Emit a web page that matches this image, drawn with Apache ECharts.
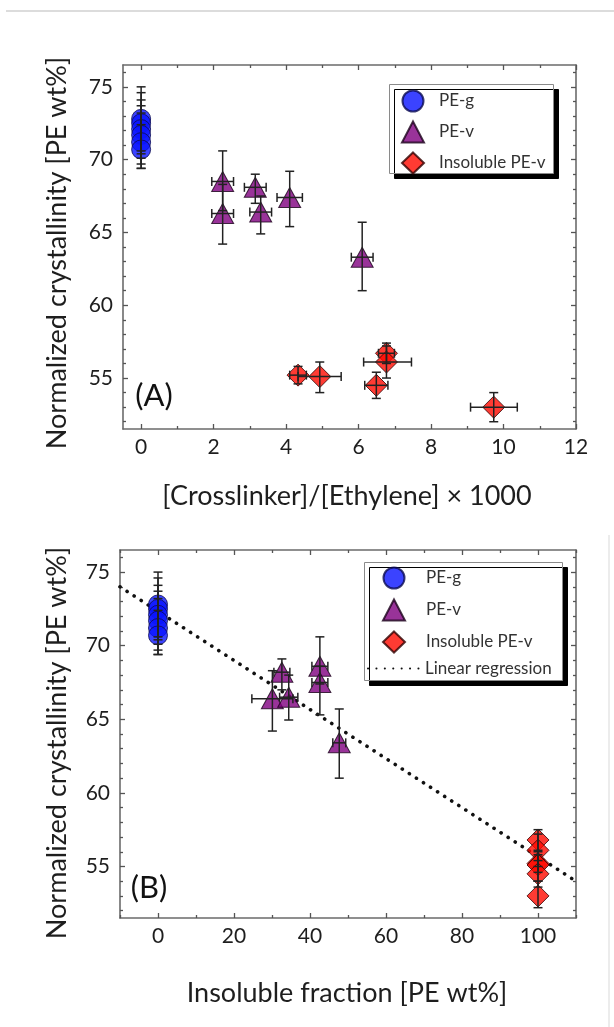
<!DOCTYPE html>
<html>
<head>
<meta charset="utf-8">
<script src="https://cdn.jsdelivr.net/npm/echarts@6.0.0/dist/echarts.min.js"></script>
<style>
html,body{margin:0;padding:0;background:#fff;}
#c{width:614px;height:1027px;}
</style>
</head>
<body>
<div id="c"></div>
<script>
// ---------- DATA ----------
// Panel A: x = [Crosslinker]/[Ethylene] x 1000
const peGA_x   = [0, 0, 0, 0, 0, 0];
const peGA_y   = [72.8, 72.5, 72.1, 71.7, 71.2, 70.7];
const peGA_ylo = [70.6, 70.4, 70.1, 69.7, 69.4, 69.4];
const peGA_yhi = [75.0, 74.6, 74.1, 73.7, 73.2, 72.4];

const peVA_x   = [2.25, 2.25, 3.15, 3.3, 4.1, 6.1];
const peVA_y   = [68.5, 66.3, 68.1, 66.4, 67.4, 63.3];
const peVA_xlo = [1.95, 1.95, 2.85, 3.0, 3.75, 5.8];
const peVA_xhi = [2.55, 2.55, 3.45, 3.6, 4.45, 6.4];
const peVA_ylo = [66.5, 64.2, 67.0, 64.9, 65.4, 61.0];
const peVA_yhi = [70.6, 68.3, 69.0, 67.5, 69.2, 65.7];

const insA_x   = [4.33, 4.93, 6.49, 6.77, 6.77, 9.73];
const insA_y   = [55.2, 55.1, 54.5, 56.7, 56.1, 53.0];
const insA_xlo = [4.10, 4.33, 6.17, 6.55, 6.14, 9.09];
const insA_xhi = [4.56, 5.52, 6.81, 6.99, 7.46, 10.38];
const insA_ylo = [54.6, 54.0, 53.6, 56.0, 55.0, 52.0];
const insA_yhi = [55.8, 56.1, 55.4, 57.4, 57.2, 54.0];

// Panel B: x = insoluble fraction [PE wt%]
const peGB_x   = [0, 0, 0, 0, 0, 0];
const peGB_y   = [72.8, 72.5, 72.1, 71.7, 71.2, 70.7];
const peGB_ylo = [70.6, 70.4, 70.1, 69.7, 69.4, 69.4];
const peGB_yhi = [75.0, 74.6, 74.1, 73.7, 73.2, 72.4];

const peVB_x   = [30.1, 32.6, 34.4, 42.6, 42.6, 47.7];
const peVB_y   = [66.4, 68.2, 66.5, 68.6, 67.5, 63.4];
const peVB_xlo = [24.7, 30.5, 32.0, 40.5, 40.5, 46.0];
const peVB_xhi = [35.5, 34.7, 36.8, 44.7, 44.7, 49.4];
const peVB_ylo = [64.2, 67.0, 64.95, 67.4, 65.3, 61.0];
const peVB_yhi = [68.3, 69.1, 68.0, 70.6, 68.6, 65.7];

const insB_x   = [100, 100, 100, 100, 100, 100];
const insB_y   = [56.8, 56.1, 55.2, 55.1, 54.5, 53.0];
const insB_ylo = [56.0, 55.0, 54.6, 54.0, 53.6, 52.2];
const insB_yhi = [57.5, 57.2, 55.8, 56.1, 55.4, 54.0];

const regB_x = [-10, 110];
const regB_y = [74.0, 54.0];

const xTicksA  = [0, 2, 4, 6, 8, 10, 12];
const xMinorA  = [1, 3, 5, 7, 9, 11];
const xTicksB  = [0, 20, 40, 60, 80, 100];
const xMinorB  = [-10, 10, 30, 50, 70, 90, 110];
const yTicks   = [55, 60, 65, 70, 75];
const yMinor   = [52, 53, 54, 56, 57, 58, 59, 61, 62, 63, 64, 66, 67, 68, 69, 71, 72, 73, 74, 76];

const legendSymbols = ['PE-g', 'PE-v', 'Insoluble PE-v'];
const legendLine = ['Linear regression'];
const legendIcons = { 'PE-g': 'circle', 'PE-v': 'triangle', 'Insoluble PE-v': 'diamond' };

// ---------- HELPERS ----------
const FONT = 'Lato';
const pts = (xs, ys) => xs.map((x, i) => [x, ys[i]]);
const errs = (xs, ys, xlo, xhi, ylo, yhi) =>
  xs.map((x, i) => [x, ys[i], xlo ? xlo[i] : x, xhi ? xhi[i] : x, ylo[i], yhi[i]]);

function axis(dim, grid, min, max, pos, ticks, len, withLine, withLabels) {
  return {
    type: 'value', gridIndex: grid, min: min, max: max, position: pos,
    axisLine: { show: withLine, onZero: false, lineStyle: { color: '#6b6b6b', width: 1.6 } },
    axisTick: { show: true, inside: true, length: len, customValues: ticks,
                lineStyle: { color: '#555', width: 1.3 } },
    axisLabel: { show: withLabels, customValues: ticks, fontFamily: FONT, fontSize: 21,
                 color: '#1e1e1e', margin: dim === 'x' ? 8 : 10 },
    splitLine: { show: false }
  };
}

function errRender(params, api) {
  const x = api.value(0), y = api.value(1);
  const x0 = api.value(2), x1 = api.value(3), y0 = api.value(4), y1 = api.value(5);
  const pl = api.coord([x0, y]), pr = api.coord([x1, y]);
  const pb = api.coord([x, y0]), pt = api.coord([x, y1]);
  const cap = 4.5;
  const st = { stroke: '#222', lineWidth: 1.5 };
  const ch = [
    { type: 'line', shape: { x1: pb[0], y1: pb[1], x2: pt[0], y2: pt[1] }, style: st },
    { type: 'line', shape: { x1: pb[0] - cap, y1: pb[1], x2: pb[0] + cap, y2: pb[1] }, style: st },
    { type: 'line', shape: { x1: pt[0] - cap, y1: pt[1], x2: pt[0] + cap, y2: pt[1] }, style: st }
  ];
  if (x1 > x0) {
    ch.push({ type: 'line', shape: { x1: pl[0], y1: pl[1], x2: pr[0], y2: pr[1] }, style: st });
    ch.push({ type: 'line', shape: { x1: pl[0], y1: pl[1] - cap, x2: pl[0], y2: pl[1] + cap }, style: st });
    ch.push({ type: 'line', shape: { x1: pr[0], y1: pr[1] - cap, x2: pr[0], y2: pr[1] + cap }, style: st });
  }
  return { type: 'group', children: ch };
}

const styleG = { symbol: 'circle', symbolSize: 19,
  itemStyle: { color: '#0a14ff', borderColor: '#0a0a50', borderWidth: 1 } };
const styleV = { symbol: 'triangle', symbolSize: [22, 20],
  itemStyle: { color: '#800080', borderColor: '#1a001a', borderWidth: 1 } };
const styleI = { symbol: 'diamond', symbolSize: 22,
  itemStyle: { color: '#ff0a00', borderColor: '#300000', borderWidth: 1 } };

function scatter(name, axisIdx, data, st) {
  return Object.assign({ type: 'scatter', name: name, xAxisIndex: axisIdx, yAxisIndex: axisIdx,
    data: data, z: 3, emphasis: { disabled: true } }, st);
}
function errSeries(axisIdx, data) {
  return { type: 'custom', xAxisIndex: axisIdx, yAxisIndex: axisIdx, data: data,
    renderItem: errRender, z: 4, silent: true, clip: false };
}

const legendBase = {
  orient: 'vertical', selectedMode: false, backgroundColor: 'transparent', borderWidth: 0,
  textStyle: { fontFamily: FONT, fontSize: 17, color: '#333' }, z: 10
};
function symbolLegend(left, top, gap, textPad) {
  return Object.assign({}, legendBase, {
    left: left, top: top, padding: 0, itemWidth: 22, itemHeight: 21, itemGap: gap,
    textStyle: Object.assign({}, legendBase.textStyle, { padding: [0, 0, 0, textPad] }),
    data: legendSymbols.map(n => ({ name: n, icon: legendIcons[n] }))
  });
}

// ---------- CHART ----------
const chart = echarts.init(document.getElementById('c'), null, { renderer: 'canvas' });

const boxStyle = { fill: '#fff', stroke: '#8a8a8a', lineWidth: 1,
  shadowColor: '#000', shadowOffsetX: 5, shadowOffsetY: 5, shadowBlur: 0 };

const option = {
  backgroundColor: '#fff',
  animation: false,
  grid: [
    { left: 123, top: 65, width: 453, height: 364 },
    { left: 120, top: 550, width: 456, height: 368 }
  ],
  xAxis: [
    axis('x', 0, -0.5, 12, 'bottom', xTicksA, 5, true, true),
    axis('x', 0, -0.5, 12, 'bottom', xMinorA, 3, false, false),
    axis('x', 0, -0.5, 12, 'top', xTicksA, 5, true, false),
    axis('x', 0, -0.5, 12, 'top', xMinorA, 3, false, false),
    axis('x', 1, -10, 110, 'bottom', xTicksB, 5, true, true),
    axis('x', 1, -10, 110, 'bottom', xMinorB, 3, false, false),
    axis('x', 1, -10, 110, 'top', xTicksB, 5, true, false),
    axis('x', 1, -10, 110, 'top', xMinorB, 3, false, false)
  ],
  yAxis: [
    axis('y', 0, 51.5, 76.5, 'left', yTicks, 5, true, true),
    axis('y', 0, 51.5, 76.5, 'left', yMinor, 3, false, false),
    axis('y', 0, 51.5, 76.5, 'right', yTicks, 5, true, false),
    axis('y', 0, 51.5, 76.5, 'right', yMinor, 3, false, false),
    axis('y', 1, 51.5, 76.5, 'left', yTicks, 5, true, true),
    axis('y', 1, 51.5, 76.5, 'left', yMinor, 3, false, false),
    axis('y', 1, 51.5, 76.5, 'right', yTicks, 5, true, false),
    axis('y', 1, 51.5, 76.5, 'right', yMinor, 3, false, false)
  ],
  legend: [
    symbolLegend(401, 89.5, 8, 10),
    symbolLegend(382, 566.5, 9, 16),
    Object.assign({}, legendBase, {
      left: 367, top: 660, padding: 0, itemWidth: 52, itemHeight: 20,
      data: legendLine.map(n => ({ name: n, itemStyle: { color: 'rgba(0,0,0,0)', borderWidth: 0, opacity: 0 } }))
    })
  ],
  series: [
    // panel A
    scatter('PE-g', 0, pts(peGA_x, peGA_y), styleG),
    scatter('PE-v', 0, pts(peVA_x, peVA_y), styleV),
    scatter('Insoluble PE-v', 0, pts(insA_x, insA_y), styleI),
    errSeries(0, errs(peGA_x, peGA_y, null, null, peGA_ylo, peGA_yhi)),
    errSeries(0, errs(peVA_x, peVA_y, peVA_xlo, peVA_xhi, peVA_ylo, peVA_yhi)),
    errSeries(0, errs(insA_x, insA_y, insA_xlo, insA_xhi, insA_ylo, insA_yhi)),
    // panel B
    { type: 'line', name: 'Linear regression', xAxisIndex: 4, yAxisIndex: 4,
      data: pts(regB_x, regB_y), symbol: 'none', z: 2, silent: true,
      lineStyle: { color: '#111', width: 3.6, type: [0.1, 8.3], cap: 'round' },
      itemStyle: { color: '#111' } },
    scatter('PE-g', 4, pts(peGB_x, peGB_y), styleG),
    scatter('PE-v', 4, pts(peVB_x, peVB_y), styleV),
    scatter('Insoluble PE-v', 4, pts(insB_x, insB_y), styleI),
    errSeries(4, errs(peGB_x, peGB_y, null, null, peGB_ylo, peGB_yhi)),
    errSeries(4, errs(peVB_x, peVB_y, peVB_xlo, peVB_xhi, peVB_ylo, peVB_yhi)),
    errSeries(4, errs(insB_x, insB_y, null, null, insB_ylo, insB_yhi))
  ],
  graphic: [
    { type: 'line', shape: { x1: 6, y1: 11, x2: 614, y2: 11 }, style: { stroke: '#dcdcdc', lineWidth: 2 }, silent: true },
    { type: 'line', shape: { x1: 609, y1: 535, x2: 609, y2: 1027 }, style: { stroke: '#e6e6e6', lineWidth: 1.5 }, silent: true },
    { type: 'rect', z: 5, shape: { x: 389.5, y: 84.5, width: 164, height: 89 }, style: boxStyle, silent: true },
    { type: 'rect', z: 5, shape: { x: 364.5, y: 562.5, width: 198, height: 118 }, style: boxStyle, silent: true },
    { type: 'text', x: 57, y: 253, rotation: Math.PI / 2,
      style: { text: 'Normalized crystallinity [PE wt%]', font: '27px ' + FONT, fill: '#1e1e1e',
               align: 'center', verticalAlign: 'middle' } },
    { type: 'text', x: 57, y: 743, rotation: Math.PI / 2,
      style: { text: 'Normalized crystallinity [PE wt%]', font: '27px ' + FONT, fill: '#1e1e1e',
               align: 'center', verticalAlign: 'middle' } },
    { type: 'text', x: 347, y: 496,
      style: { text: '[Crosslinker]/[Ethylene] × 1000', font: '27px ' + FONT, fill: '#1e1e1e',
               align: 'center', verticalAlign: 'middle' } },
    { type: 'text', x: 347, y: 993,
      style: { text: 'Insoluble fraction [PE wt%]', font: '27px ' + FONT, fill: '#1e1e1e',
               align: 'center', verticalAlign: 'middle' } },
    { type: 'text', x: 154, y: 396,
      style: { text: '(A)', font: '31px ' + FONT, fill: '#111', align: 'center', verticalAlign: 'middle' } },
    { type: 'text', x: 149, y: 888,
      style: { text: '(B)', font: '31px ' + FONT, fill: '#111', align: 'center', verticalAlign: 'middle' } }
  ]
};
chart.setOption(option);
</script>
</body>
</html>
